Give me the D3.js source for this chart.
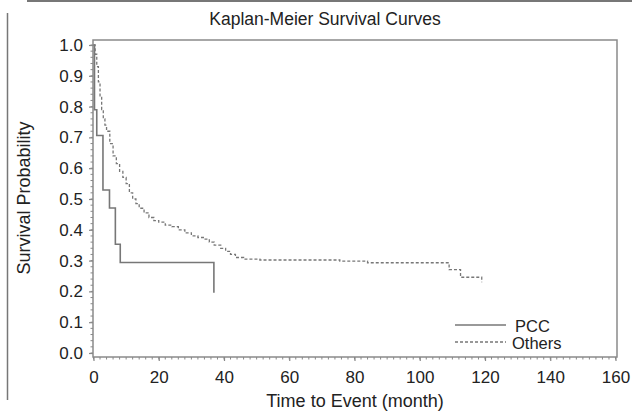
<!DOCTYPE html>
<html lang="en">
<head>
    <meta charset="UTF-8">
    <title>Kaplan-Meier Survival Curves</title>
    <script src="https://d3js.org/d3.v7.min.js"></script>
    <style>
        body { margin: 0; background: #fff; font-family: "Liberation Sans", Arial, sans-serif; }
        svg text { fill: #222; }
    </style>
</head>
<body>
<div id="chart"></div>
<script>
    // readings: [month, survival]
    const pccCurve = [
        [0, 1.0], [0.3, 0.79], [1.0, 0.706], [2.9, 0.529], [4.9, 0.471],
        [6.7, 0.353], [8.2, 0.294], [36.9, 0.196]
    ];
    const othersCurve = [
        [0, 1.0], [0.5, 0.97], [1.0, 0.93], [1.5, 0.88], [2.0, 0.83], [2.5, 0.79],
        [3.0, 0.76], [3.5, 0.74], [4.0, 0.72], [5.0, 0.68], [6.0, 0.64], [7.0, 0.615],
        [8.0, 0.59], [9.0, 0.57], [10.0, 0.55], [11.0, 0.52], [12.0, 0.50], [13.0, 0.485],
        [14.0, 0.47], [15.5, 0.455], [17.0, 0.44], [18.5, 0.43], [20.0, 0.425], [22.0, 0.415],
        [24.0, 0.41], [26.0, 0.40], [28.0, 0.39], [30.0, 0.38], [32.0, 0.375], [34.0, 0.37],
        [35.5, 0.36], [37.0, 0.35], [39.0, 0.34], [40.5, 0.33], [42.0, 0.32], [43.5, 0.31],
        [46.0, 0.305], [51.0, 0.302], [75.5, 0.298], [84.0, 0.293], [109.0, 0.271],
        [112.5, 0.246], [119.0, 0.23]
    ];
    const xTicks = [0, 20, 40, 60, 80, 100, 120, 140, 160];
    const yTicks = [0, 0.1, 0.2, 0.3, 0.4, 0.5, 0.6, 0.7, 0.8, 0.9, 1.0];
    const seriesNames = ["PCC", "Others"];

    const W = 632, H = 411;
    const frame = { left: 93, right: 617, top: 40, bottom: 357 };

    const svg = d3.select("#chart").append("svg")
        .attr("width", W).attr("height", H);

    // stray page border lines visible in the scan
    svg.append("line").attr("x1", 27).attr("x2", W).attr("y1", 1).attr("y2", 1)
        .attr("stroke", "#777").attr("stroke-width", 2);
    svg.append("line").attr("x1", 7.5).attr("x2", 7.5).attr("y1", 13).attr("y2", 400)
        .attr("stroke", "#777").attr("stroke-width", 1.5);

    const x = d3.scaleLinear().domain([0, 160]).range([93.5, 615.5]);
    const y = d3.scaleLinear().domain([0, 1]).range([353, 45]);

    // plot frame
    svg.append("rect")
        .attr("x", frame.left).attr("y", frame.top)
        .attr("width", frame.right - frame.left).attr("height", frame.bottom - frame.top)
        .attr("fill", "none").attr("stroke", "#8a8a8a").attr("stroke-width", 1.5);

    // minor ticks
    const xMinor = d3.range(0, 161, 2);
    const yMinor = d3.range(0, 1.001, 0.02);
    svg.append("g").selectAll("line").data(xMinor).enter().append("line")
        .attr("x1", d => x(d)).attr("x2", d => x(d))
        .attr("y1", frame.bottom).attr("y2", frame.bottom + 2.5)
        .attr("stroke", "#888").attr("stroke-width", 1);
    svg.append("g").selectAll("line").data(yMinor).enter().append("line")
        .attr("x1", frame.left - 2.5).attr("x2", frame.left)
        .attr("y1", d => y(d)).attr("y2", d => y(d))
        .attr("stroke", "#888").attr("stroke-width", 1);

    // axes
    const xAxis = svg.append("g")
        .attr("transform", `translate(0,${frame.bottom})`)
        .call(d3.axisBottom(x).tickValues(xTicks).tickFormat(d3.format("d")).tickSize(4).tickPadding(10));
    const yAxis = svg.append("g")
        .attr("transform", `translate(${frame.left},0)`)
        .call(d3.axisLeft(y).tickValues(yTicks).tickFormat(d3.format(".1f")).tickSize(4).tickPadding(6));
    [xAxis, yAxis].forEach(g => {
        g.select(".domain").remove();
        g.selectAll(".tick line").attr("stroke", "#888").attr("stroke-width", 1.2);
        g.selectAll(".tick text")
            .style("font-family", "'Liberation Sans', Arial, sans-serif")
            .style("font-size", "17px").attr("fill", "#222");
    });

    // titles
    svg.append("text")
        .attr("x", 325).attr("y", 25)
        .attr("text-anchor", "middle")
        .style("font-size", "17.5px")
        .text("Kaplan-Meier Survival Curves");
    svg.append("text")
        .attr("x", 355).attr("y", 407)
        .attr("text-anchor", "middle")
        .style("font-size", "18px")
        .text("Time to Event (month)");
    svg.append("text")
        .attr("transform", "translate(30,198) rotate(-90)")
        .attr("text-anchor", "middle")
        .style("font-size", "18px")
        .text("Survival Probability");

    // curves
    const line = d3.line()
        .x(d => x(d[0])).y(d => y(d[1]))
        .curve(d3.curveStepAfter);

    svg.append("path").datum(othersCurve)
        .attr("d", line)
        .attr("fill", "none").attr("stroke", "#777")
        .attr("stroke-width", 1.3).attr("stroke-dasharray", "3,2");
    svg.append("path").datum(pccCurve)
        .attr("d", line)
        .attr("fill", "none").attr("stroke", "#777")
        .attr("stroke-width", 1.6);

    // legend
    const legend = svg.append("g");
    const legendRows = [
        { name: seriesNames[0], dash: null, ly: 325 },
        { name: seriesNames[1], dash: "3,2", ly: 342 }
    ];
    legendRows.forEach(r => {
        legend.append("line")
            .attr("x1", 455).attr("x2", 506).attr("y1", r.ly).attr("y2", r.ly)
            .attr("stroke", "#777").attr("stroke-width", r.dash ? 1.3 : 1.6)
            .attr("stroke-dasharray", r.dash);
        legend.append("text")
            .attr("x", r.name === "PCC" ? 515 : 512).attr("y", r.ly + 7)
            .style("font-size", "16.5px")
            .text(r.name);
    });
</script>
</body>
</html>
